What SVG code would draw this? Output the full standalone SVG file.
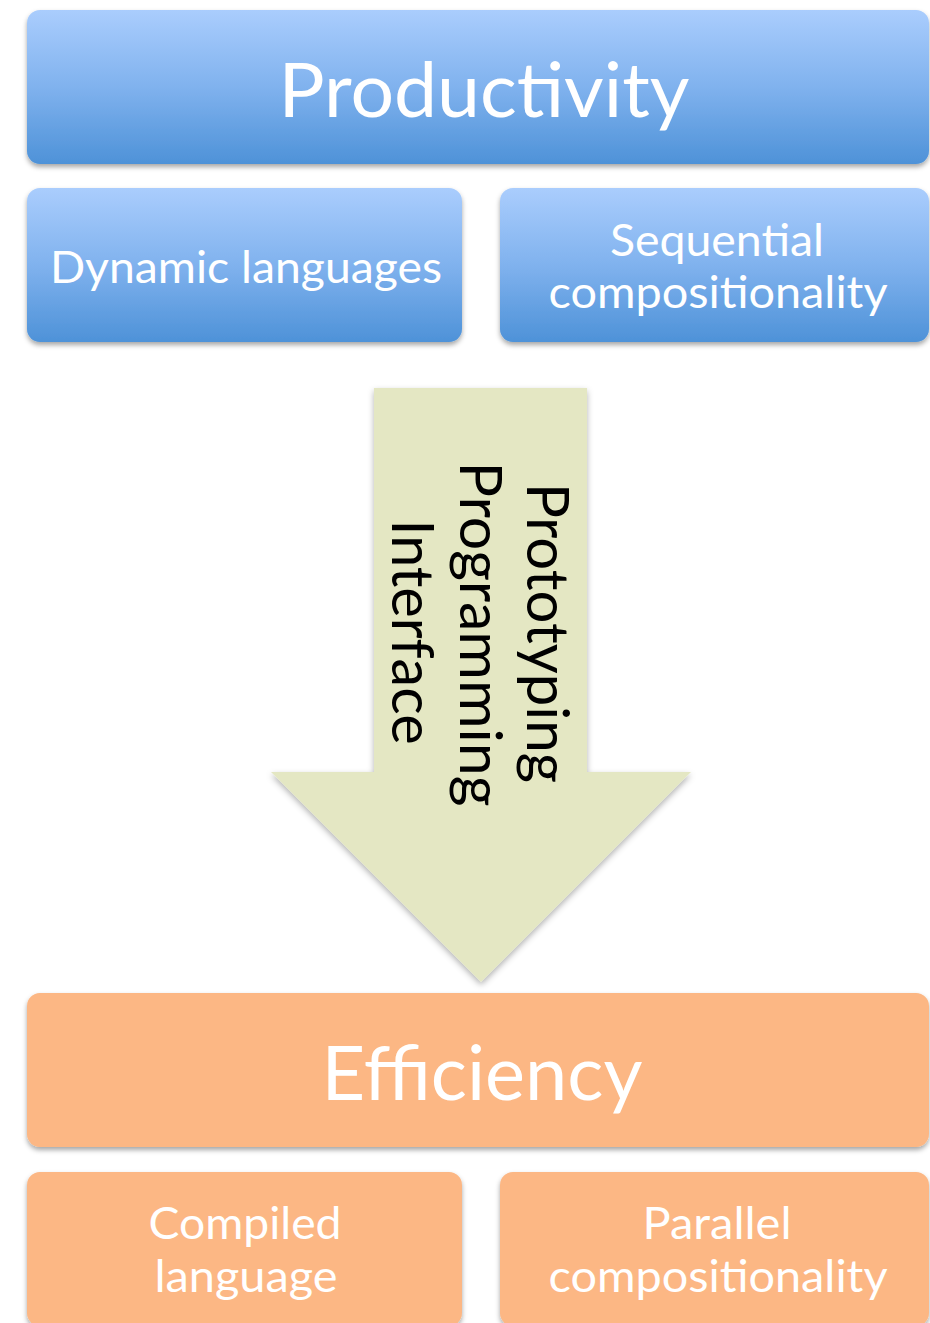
<svg xmlns="http://www.w3.org/2000/svg" width="930" height="1323" viewBox="0 0 930 1323">
<defs>
<linearGradient id="blue" x1="0" y1="0" x2="0" y2="1">
<stop offset="0" stop-color="#aacdfd"/>
<stop offset="0.5" stop-color="#80b2ee"/>
<stop offset="1" stop-color="#4e92d8"/>
</linearGradient>
<filter id="shadow" x="-5%" y="-10%" width="110%" height="125%">
<feDropShadow dx="0" dy="3" stdDeviation="2.5" flood-color="#000" flood-opacity="0.35"/>
</filter>
<filter id="ashadow" x="-10%" y="-5%" width="120%" height="110%">
<feDropShadow dx="0" dy="3" stdDeviation="3" flood-color="#000" flood-opacity="0.3"/>
</filter>
</defs>
<style>
.blue{fill:url(#blue);filter:url(#shadow);}
.orange{fill:#fcb784;filter:url(#shadow);}
.wt{fill:#ffffff;font-family:Lato,"Open Sans",sans-serif;text-anchor:middle;}
.big{font-size:76px;}
.small{font-size:45px;}
.vt{fill:#000000;font-family:Lato,"Open Sans",sans-serif;font-size:58px;text-anchor:middle;}
</style>
<rect width="930" height="1323" fill="#ffffff"/>
<g id="productivity">
<rect class="blue" x="27" y="10" width="902" height="154" rx="13"/>
<text class="wt big" x="484" y="117" textLength="411" lengthAdjust="spacingAndGlyphs">Productivity</text>
</g>
<g id="dynamic-languages">
<rect class="blue" x="27" y="188" width="435" height="154" rx="13"/>
<text class="wt small" x="246" y="283" textLength="392" lengthAdjust="spacingAndGlyphs">Dynamic languages</text>
</g>
<g id="sequential-compositionality">
<rect class="blue" x="500" y="188" width="429" height="154" rx="13"/>
<text class="wt small" x="717" y="256" textLength="214" lengthAdjust="spacingAndGlyphs">Sequential</text>
<text class="wt small" x="718" y="308" textLength="339" lengthAdjust="spacingAndGlyphs">compositionality</text>
</g>
<g id="connectors">
<g id="prototyping-programming-interface">
<polygon points="374,388 587,388 587,772 691,772 481,982 271,772 374,772" fill="#e4e7c3" filter="url(#ashadow)"/>
<g transform="translate(527,633) rotate(90)"><text class="vt" x="0" y="0" textLength="300" lengthAdjust="spacingAndGlyphs">Prototyping</text></g>
<g transform="translate(460,634) rotate(90)"><text class="vt" x="0" y="0" textLength="345" lengthAdjust="spacingAndGlyphs">Programming</text></g>
<g transform="translate(392,632) rotate(90)"><text class="vt" x="0" y="0" textLength="225" lengthAdjust="spacingAndGlyphs">Interface</text></g>
</g>
</g>
<g id="efficiency">
<rect class="orange" x="27" y="993" width="902" height="154" rx="13"/>
<text class="wt big" x="482" y="1100" textLength="321" lengthAdjust="spacingAndGlyphs">Efficiency</text>
</g>
<g id="compiled-language">
<rect class="orange" x="27" y="1172" width="435" height="154" rx="13"/>
<text class="wt small" x="245" y="1239" textLength="193" lengthAdjust="spacingAndGlyphs">Compiled</text>
<text class="wt small" x="246" y="1292" textLength="183" lengthAdjust="spacingAndGlyphs">language</text>
</g>
<g id="parallel-compositionality">
<rect class="orange" x="500" y="1172" width="429" height="154" rx="13"/>
<text class="wt small" x="717" y="1239" textLength="149" lengthAdjust="spacingAndGlyphs">Parallel</text>
<text class="wt small" x="718" y="1292" textLength="339" lengthAdjust="spacingAndGlyphs">compositionality</text>
</g>
</svg>
